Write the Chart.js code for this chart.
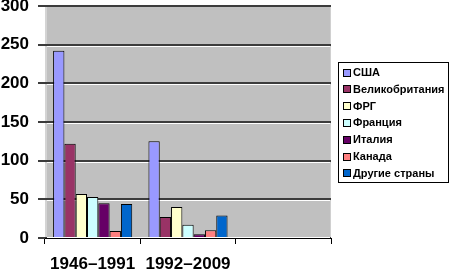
<!DOCTYPE html>
<html>
<head>
<meta charset="utf-8">
<script src="https://cdn.jsdelivr.net/npm/chart.js@4"></script>
<style>
html,body{margin:0;padding:0;background:#fff;}
#c{display:block;}
</style>
</head>
<body>
<canvas id="c" width="450" height="273"></canvas>
<script>
const categories = ['1946–1991', '1992–2009', ''];
const seriesNames = ['США', 'Великобритания', 'ФРГ', 'Франция', 'Италия', 'Канада', 'Другие страны'];
const usa    = [242, 125, null];
const uk     = [122, 27, null];
const frg    = [57, 40, null];
const france = [53, 17, null];
const italy  = [45, 5, null];
const canada = [9, 10, null];
const others = [44, 29, null];
const yTicks = [0, 50, 100, 150, 200, 250, 300];

const seriesValues = [usa, uk, frg, france, italy, canada, others];
const colors = ['#9999FF', '#993366', '#FFFFCC', '#CCFFFF', '#660066', '#FF8080', '#0066CC'];

const datasets = seriesNames.map((n, i) => ({
  label: n,
  data: seriesValues[i],
  backgroundColor: colors[i],
  borderColor: '#000000',
  borderWidth: 1,
  borderSkipped: 'bottom',
  categoryPercentage: 0.83,
  barPercentage: 1.0
}));

const bgPlugin = {
  id: 'excelBg',
  beforeDraw(chart) {
    const {ctx, chartArea: a} = chart;
    ctx.save();
    ctx.fillStyle = '#C0C0C0';
    ctx.fillRect(a.left, a.top, a.right - a.left, a.bottom - a.top);
    // light left wall strip
    ctx.fillStyle = '#D4D4D4';
    ctx.fillRect(a.left, a.top, 2, a.bottom - a.top);
    // light right edge
    ctx.fillStyle = '#D0D0D0';
    ctx.fillRect(a.right - 1, a.top, 1, a.bottom - a.top);
    // top edge
    ctx.fillStyle = '#A8A8A8';
    ctx.fillRect(a.left, a.top, a.right - a.left, 1);
    ctx.restore();
  },
  beforeDatasetsDraw(chart) {
    const {ctx, chartArea: a} = chart;
    const y = chart.scales.y;
    ctx.save();
    ctx.fillStyle = '#FFFFFF';
    y.ticks.forEach(t => {
      if (t.value === 0 || t.value === 300) return;
      const py = Math.round(y.getPixelForValue(t.value));
      ctx.fillRect(a.left + 2, py + 1, a.right - a.left - 3, 1);
    });
    ctx.fillRect(a.left + 2, a.bottom - 1, a.right - a.left - 3, 1);
    ctx.restore();
  },
  afterDraw(chart) {
    const {ctx} = chart;
    const lx = 338, ly = 62, lw = 111, lh = 121;
    ctx.save();
    ctx.fillStyle = '#FFFFFF';
    ctx.fillRect(lx, ly, lw, lh);
    ctx.strokeStyle = '#000000';
    ctx.lineWidth = 1;
    ctx.strokeRect(lx + 0.5, ly + 0.5, lw - 1, lh - 1);
    ctx.font = 'bold 11px "Liberation Sans", Arial, sans-serif';
    ctx.textBaseline = 'middle';
    chart.data.datasets.forEach((ds, i) => {
      const cy = 72.5 + i * 16.8;
      ctx.fillStyle = ds.backgroundColor;
      ctx.fillRect(344, Math.round(cy) - 3, 6, 6);
      ctx.strokeStyle = '#000';
      ctx.strokeRect(343.5, Math.round(cy) - 3.5, 7, 7);
      ctx.fillStyle = '#000';
      ctx.fillText(ds.label, 353, cy + 0.5);
    });
    ctx.restore();
  }
};

new Chart(document.getElementById('c'), {
  type: 'bar',
  data: { labels: categories, datasets },
  options: {
    responsive: false,
    animation: false,
    devicePixelRatio: 1,
    layout: { padding: { left: 0, right: 119, top: 6, bottom: 0 } },
    plugins: { legend: { display: false }, tooltip: { enabled: false } },
    scales: {
      x: {
        offset: true,
        grid: { display: true, drawOnChartArea: false, offset: true, color: '#000', tickLength: 6, lineWidth: 1 },
        border: { display: true, color: '#000', width: 1 },
        ticks: { color: '#000', font: { family: '"Liberation Sans", Arial, sans-serif', size: 17, weight: 'bold' }, padding: 10, maxRotation: 0, autoSkip: false },
        afterFit(s) { s.height = 35; s.paddingLeft = 0; s.paddingRight = 0; }
      },
      y: {
        min: 0, max: 300,
        afterBuildTicks(s) { s.ticks = yTicks.map(v => ({ value: v })); },
        grid: { color: '#3C3C3C', lineWidth: 2, tickLength: 7 },
        border: { display: false },
        ticks: { color: '#000', font: { family: '"Liberation Sans", Arial, sans-serif', size: 17, weight: 'bold' }, padding: 9 },
        afterFit(s) { s.width = 45; s.paddingTop = 0; s.paddingBottom = 0; }
      }
    }
  },
  plugins: [bgPlugin]
});
</script>
</body>
</html>
